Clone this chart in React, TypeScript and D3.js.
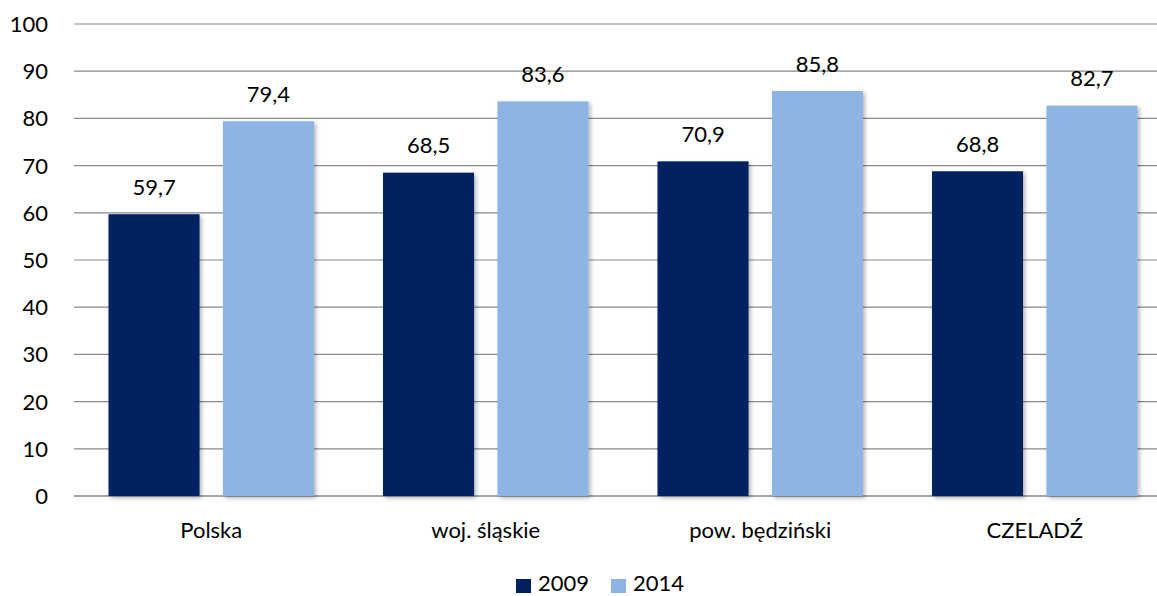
import React from "react";
import * as d3 from "d3";

const categories = ["Polska", "woj. śląskie", "pow. będziński", "CZELADŹ"];
const seriesNames = ["2009", "2014"];
const values2009 = [59.7, 68.5, 70.9, 68.8];
const values2014 = [79.4, 83.6, 85.8, 82.7];
const yTicks = [0, 10, 20, 30, 40, 50, 60, 70, 80, 90, 100];
const colors = ["#002060", "#8EB4E3"];

const W = 1157;
const H = 596;
const FONT = "Lato, 'Open Sans', sans-serif";

export default function App() {
  const x0 = d3.scaleBand<string>().domain(categories).range([74, 1172]).paddingInner(0).paddingOuter(0);
  const x1 = d3.scaleBand<string>().domain(seriesNames).range([0, x0.bandwidth()]).paddingInner(0.2045).paddingOuter(0.3016);
  const y = d3.scaleLinear().domain([0, 100]).range([496, 24]);
  const series = [values2009, values2014];
  const fmt = (v: number) => v.toFixed(1).replace(".", ",");

  return (
    <div style={{ position: "absolute", left: 0, top: 0 }}>
      <svg width={W} height={H} style={{ display: "block", background: "#fff" }} fontFamily={FONT}>
        <defs>
          <filter id="sh" x="-20%" y="-5%" width="140%" height="115%">
            <feDropShadow dx="2" dy="2" stdDeviation="2" floodColor="#000" floodOpacity="0.3" />
          </filter>
        </defs>
        {yTicks.map((t) => (
          <g key={t}>
            <line x1={74} x2={W} y1={y(t)} y2={y(t)} stroke="#8a8a8a" strokeWidth={t === 0 ? 1.5 : 1.2} />
            <text x={48} y={y(t) + 8} textAnchor="end" fontSize={22} fill="#000">{t}</text>
          </g>
        ))}
        {categories.map((c, i) => (
          <g key={c} transform={`translate(${x0(c)},0)`}>
            {seriesNames.map((s, j) => {
              const v = series[j][i];
              const bx = x1(s)!;
              return (
                <g key={s}>
                  <rect x={bx} y={y(v)} width={x1.bandwidth()} height={y(0) - y(v)} fill={colors[j]} filter="url(#sh)" />
                  <text x={bx + x1.bandwidth() / 2} y={y(v) - 19.5} textAnchor="middle" fontSize={22} fill="#000">{fmt(v)}</text>
                </g>
              );
            })}
            <text x={x0.bandwidth() / 2} y={538} textAnchor="middle" fontSize={22} fill="#000">{c}</text>
          </g>
        ))}
        {seriesNames.map((s, j) => {
          const lx = j === 0 ? 516 : 611;
          return (
            <g key={s}>
              <rect x={lx} y={579} width={15} height={14} fill={colors[j]} />
              <text x={lx + 22} y={591} fontSize={22} fill="#000">{s}</text>
            </g>
          );
        })}
      </svg>
    </div>
  );
}
